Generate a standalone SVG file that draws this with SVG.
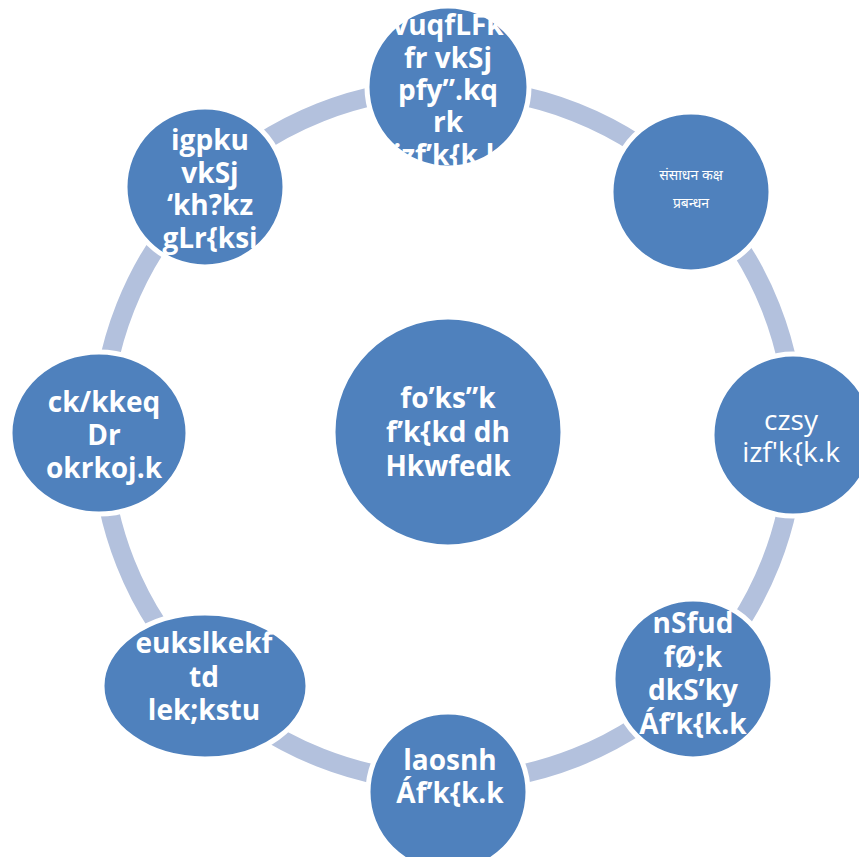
<svg xmlns="http://www.w3.org/2000/svg" width="859" height="857" viewBox="0 0 859 857">
<style>
.ring{fill:none;stroke:#b3c1dd;stroke-width:19}
.node{fill:#4f81bd;stroke:#ffffff;stroke-width:5}
.t{font-family:"Open Sans","Liberation Sans",sans-serif;font-weight:700;font-size:28px;fill:#ffffff;text-anchor:middle}
.r{font-family:"Open Sans","Liberation Sans",sans-serif;font-weight:400;font-size:28px;fill:#ffffff;text-anchor:middle}
.d{font-family:"Noto Sans","Noto Sans Devanagari",sans-serif;font-size:14px;fill:#ffffff;text-anchor:middle}
</style>
<defs>
<clipPath id="clipTop"><circle cx="448" cy="87" r="80"/></clipPath>
</defs>
<rect width="859" height="857" fill="#ffffff"/>
<g id="connectors">
<circle class="ring" cx="448" cy="435" r="347"/>
</g>
<g id="node-center">
<circle class="node" cx="448" cy="432" r="115" stroke="none"/>
<text class="t" x="448" y="408">fo’ks”k</text>
<text class="t" x="448" y="442">f’k{kd dh</text>
<text class="t" x="448" y="476">Hkwfedk</text>
</g>
<g id="node-top">
<circle class="node" cx="448" cy="87" r="81"/>
<g clip-path="url(#clipTop)">
<text class="t" x="448" y="35">vuqfLFk</text>
<text class="t" x="448" y="68">fr vkSj</text>
<text class="t" x="448" y="100">pfy”.kq</text>
<text class="t" x="448" y="132">rk</text>
<text class="t" x="448" y="165">izf’k{k.k</text>
</g>
</g>
<g id="node-topright">
<circle class="node" cx="691" cy="192" r="80"/>
<text class="d" x="691" y="180">संसाधन कक्ष</text>
<text class="d" x="691" y="208">प्रबन्धन</text>
</g>
<g id="node-right">
<circle class="node" cx="793" cy="435" r="81"/>
<text class="r" x="791" y="430">czsy</text>
<text class="r" x="791" y="462">izf'k{k.k</text>
</g>
<g id="node-bottomright">
<circle class="node" cx="693" cy="679" r="80"/>
<text class="t" x="693" y="633">nSfud</text>
<text class="t" x="693" y="667">fØ;k</text>
<text class="t" x="693" y="700">dkS’ky</text>
<text class="t" x="693" y="734">Áf’k{k.k</text>
</g>
<g id="node-bottom">
<circle class="node" cx="448" cy="792" r="80"/>
<text class="t" x="450" y="770">laosnh</text>
<text class="t" x="450" y="803">Áf’k{k.k</text>
</g>
<g id="node-bottomleft">
<ellipse class="node" cx="205" cy="686" rx="103" ry="73"/>
<text class="t" x="204" y="653">eukslkekf</text>
<text class="t" x="204" y="687">td</text>
<text class="t" x="204" y="720">lek;kstu</text>
</g>
<g id="node-left">
<ellipse class="node" cx="99" cy="433" rx="89" ry="81"/>
<text class="t" x="104" y="412">ck/kkeq</text>
<text class="t" x="104" y="445">Dr</text>
<text class="t" x="104" y="478">okrkoj.k</text>
</g>
<g id="node-topleft">
<circle class="node" cx="205" cy="187" r="80"/>
<text class="t" x="210" y="150">igpku</text>
<text class="t" x="210" y="183">vkSj</text>
<text class="t" x="210" y="215">‘kh?kz</text>
<text class="t" x="210" y="248">gLr{ksi</text>
</g>
</svg>
